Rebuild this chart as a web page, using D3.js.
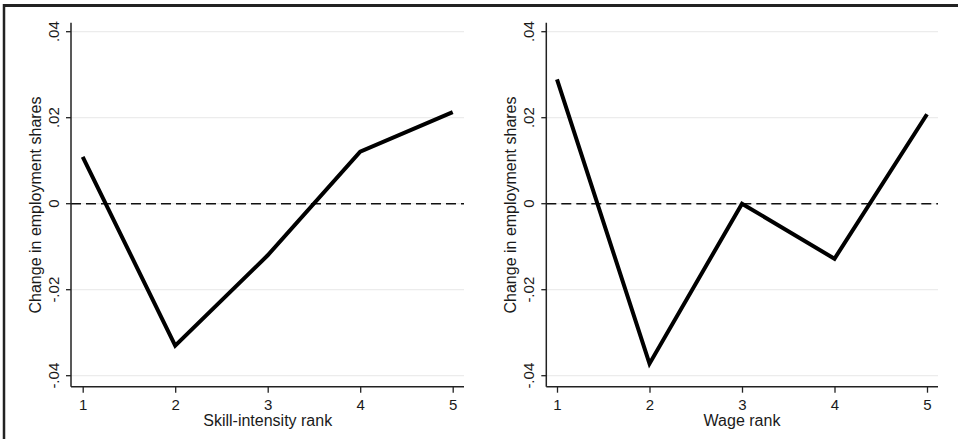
<!DOCTYPE html>
<html>
<head>
<meta charset="utf-8">
<script src="https://cdn.jsdelivr.net/npm/d3@7"></script>
<style>
  html, body { margin: 0; padding: 0; background: #fff; }
  svg { display: block; }
  text { font-family: "Liberation Sans", Arial, sans-serif; fill: #1a1a1a; }
</style>
</head>
<body>
<svg id="chart" width="958" height="439"></svg>
<script>
// Ranks on the horizontal axis
const ranks = [1, 2, 3, 4, 5];

// Change in employment shares by skill-intensity rank
const skillShares = [0.0109, -0.0330, -0.0120, 0.0121, 0.0213];

// Change in employment shares by wage rank
const wageShares = [0.0289, -0.0372, 0.0000, -0.0128, 0.0208];

// Vertical axis ticks and their labels
const yTicks = [-0.04, -0.02, 0, 0.02, 0.04];
const yTickLabels = ["-.04", "-.02", "0", ".02", ".04"];

const yTitle = "Change in employment shares";
const xTitles = ["Skill-intensity rank", "Wage rank"];

const svg = d3.select("#chart");

// Outer frame: heavy rule along the top and down the left side
svg.append("line").attr("x1", 3).attr("x2", 958).attr("y1", 5.5).attr("y2", 5.5)
  .attr("stroke", "#222").attr("stroke-width", 3);
svg.append("line").attr("x1", 4).attr("x2", 4).attr("y1", 4).attr("y2", 439)
  .attr("stroke", "#222").attr("stroke-width", 2.5);

const panels = [
  { values: skillShares, title: xTitles[0], axisX: 71, axisEnd: 464, first: 82.7, last: 452.7 },
  { values: wageShares,  title: xTitles[1], axisX: 546.3, axisEnd: 938, first: 557, last: 927 }
];

const yTop = 22.7, yBottom = 386.7;
const y = d3.scaleLinear().domain([-0.04, 0.04]).range([375.7, 31.7]);

panels.forEach(p => {
  const g = svg.append("g");
  const x = d3.scaleLinear().domain([1, 5]).range([p.first, p.last]);

  // Light horizontal gridlines
  g.selectAll("line.grid").data(yTicks).join("line")
    .attr("class", "grid")
    .attr("x1", p.axisX).attr("x2", p.axisEnd)
    .attr("y1", d => y(d)).attr("y2", d => y(d))
    .attr("stroke", "#ececec").attr("stroke-width", 1.2);

  // Dashed reference line at zero
  g.append("line")
    .attr("x1", p.axisX).attr("x2", p.axisEnd)
    .attr("y1", y(0)).attr("y2", y(0))
    .attr("stroke", "#111").attr("stroke-width", 1.5)
    .attr("stroke-dasharray", "10,5");

  // Left axis with rotated tick labels
  const yAxis = d3.axisLeft(y).tickValues(yTicks)
    .tickFormat((d, i) => yTickLabels[i]).tickSize(5).tickSizeOuter(0);
  const ya = g.append("g").attr("transform", `translate(${p.axisX},0)`).call(yAxis);
  ya.select(".domain").remove();
  ya.selectAll(".tick").attr("transform", null);
  ya.selectAll(".tick line")
    .attr("y1", d => y(d)).attr("y2", d => y(d))
    .attr("stroke", "#222").attr("stroke-width", 1.3);
  ya.selectAll(".tick text")
    .attr("x", 0).attr("y", 0).attr("dy", 0)
    .attr("transform", d => `translate(-12,${y(d)}) rotate(-90)`)
    .attr("text-anchor", "middle")
    .style("font-size", "15px")
    .style("font-family", "'Liberation Sans', Arial, sans-serif");

  g.append("line").attr("x1", p.axisX).attr("x2", p.axisX)
    .attr("y1", yTop).attr("y2", yBottom)
    .attr("stroke", "#222").attr("stroke-width", 1.5);

  // Bottom axis
  const xAxis = d3.axisBottom(x).tickValues(ranks).tickFormat(d3.format("d"))
    .tickSize(6).tickSizeOuter(0).tickPadding(7);
  const xa = g.append("g").attr("transform", `translate(0,${yBottom})`).call(xAxis);
  xa.select(".domain").remove();
  xa.selectAll(".tick line").attr("stroke", "#222").attr("stroke-width", 1.3);
  xa.selectAll(".tick text").style("font-size", "15px")
    .style("font-family", "'Liberation Sans', Arial, sans-serif");

  g.append("line").attr("x1", p.axisX).attr("x2", p.axisEnd)
    .attr("y1", yBottom).attr("y2", yBottom)
    .attr("stroke", "#222").attr("stroke-width", 1.5);

  // Axis titles
  g.append("text")
    .attr("x", (p.first + p.last) / 2).attr("y", 426)
    .attr("text-anchor", "middle").style("font-size", "16px")
    .text(p.title);
  g.append("text")
    .attr("transform", `translate(${p.axisX - 30},205) rotate(-90)`)
    .attr("text-anchor", "middle").style("font-size", "16px")
    .text(yTitle);

  // Data line
  const line = d3.line().x((d, i) => x(ranks[i])).y(d => y(d));
  g.append("path").datum(p.values)
    .attr("d", line)
    .attr("fill", "none").attr("stroke", "#000")
    .attr("stroke-width", 4).attr("stroke-linejoin", "miter");
});
</script>
</body>
</html>
